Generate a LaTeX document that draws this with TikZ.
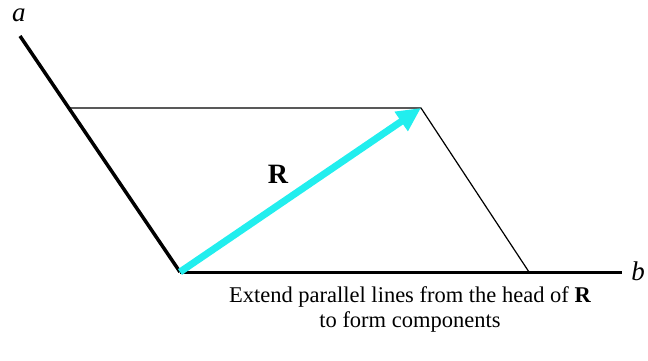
\documentclass[tikz,border=0pt]{standalone}
\usepackage{fontspec}
\setmainfont{Liberation Serif}
\usetikzlibrary{positioning,arrows.meta}
\definecolor{ciano}{HTML}{22EEEE}

\begin{document}
\begin{tikzpicture}[x=1pt,y=-1pt,
    every node/.style={font=\fontsize{22.5}{25}\selectfont,align=center},
    axis/.style={line width=3.5pt},
    guide/.style={line width=1.2pt},
    vec/.style={ciano,line width=7pt,-{Triangle[length=24pt,width=22pt]}},
    axlabel/.style={font=\fontsize{27}{30}\selectfont\itshape,inner sep=1pt},
  ]
  \useasboundingbox (0,0) rectangle (648,361);
  \coordinate (o) at (180,272);
  \coordinate (aend) at (20,36);
  \coordinate (bend) at (622,272);
  \coordinate (p) at (70,108);
  \coordinate (h) at (421,108);
  \coordinate (q) at (529,272);
  \draw[axis] (o) -- (aend);
  \draw[axis,line width=3pt] (o) -- (bend);
  \draw[guide] (p) -- (h) -- (q);
  \draw[vec] (o) -- (h);
  \node[axlabel] (alabel) at (19,15) {a};
  \node[axlabel] (blabel) at (638,271) {b};
  \node[font=\fontsize{28}{30}\selectfont\bfseries] (rlabel) at (278,174) {R};
  \node (caption) at (410,309) {Extend parallel lines from the head of \textbf{R}\\to form components};
\end{tikzpicture}
\end{document}
